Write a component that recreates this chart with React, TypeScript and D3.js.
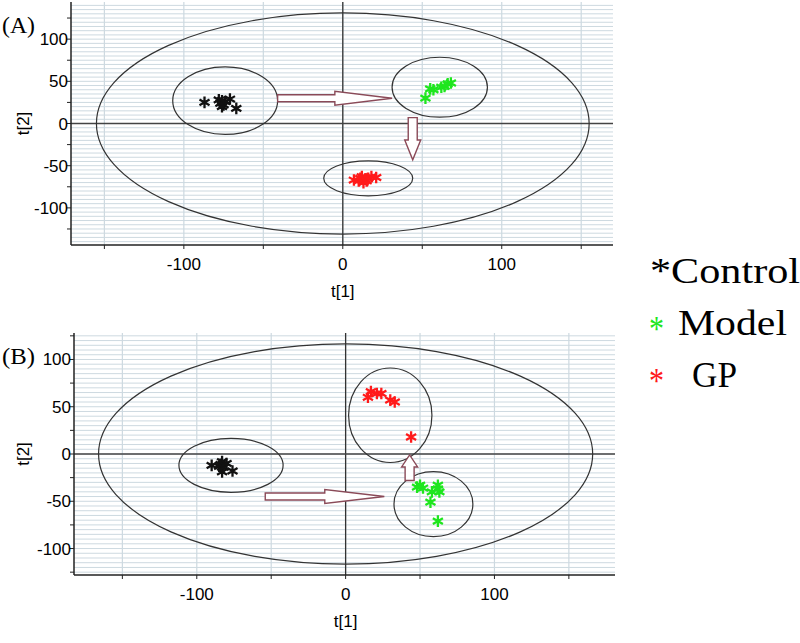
import React from 'react';
import * as d3 from 'd3';

// tick values shared by both score plots
const xTicks = [-100, 0, 100];
const yTicks = [-100, -50, 0, 50, 100];

// panel A scores (t[1], t[2])
const controlA: [number, number][] = [[-87, 25], [-78, 28], [-77, 24], [-76, 27], [-75, 22], [-76, 20], [-74, 26], [-71, 29], [-67, 18]];
const modelA: [number, number][] = [[52, 30], [55, 41], [57, 40], [62, 43], [64, 44], [66, 47], [68, 48]];
const gpA: [number, number][] = [[7, -67], [10, -68], [11, -65], [12, -63], [13, -70], [14, -66], [15, -68], [16, -65], [18, -63], [21, -64]];

// panel B scores
const controlB: [number, number][] = [[-90, -12], [-85, -13], [-84, -11], [-83, -8], [-83, -19], [-82, -14], [-80, -10], [-76, -18]];
const modelB: [number, number][] = [[48, -35], [50, -33], [52, -36], [58, -40], [62, -33], [63, -40], [62, -37], [57, -51], [62, -71]];
const gpB: [number, number][] = [[15, 60], [17, 66], [21, 64], [24, 64], [30, 57], [33, 55], [44, 18]];

// ellipses: [cx, cy, rx, ry] in score units
const ellipsesA = [[0, 0, 155, 131], [-74, 27, 33, 40], [61, 43, 30, 35.5], [16, -65, 28, 20.7]];
const ellipsesB = [[0, 0, 166, 116.5], [-77, -12, 35, 28.5], [30, 41, 28, 50], [59, -53, 26.5, 34.4]];

// arrows: [x1, y1, x2, y2] from tail to tip, in score units
const arrowsA = [[-41, 30, 31, 30], [44, 7, 44, -43]];
const arrowsB = [[-54, -45, 26, -45], [43, -28, 43, -1]];

const groupColors = { control: '#111111', model: '#1ee61e', gp: '#ff1a1a' };

type PanelProps = {
  top: number; bottom: number; left: number; right: number;
  xDomain: [number, number]; yDomain: [number, number];
  label: string; ellipses: number[][]; arrows: number[][];
  control: [number, number][]; model: [number, number][]; gp: [number, number][];
};

const star = d3.symbol().type(d3.symbolAsterisk).size(95);
const serif = '"Liberation Serif", "Times New Roman", serif';

function Arrow({ a, x, y }: { a: number[]; x: any; y: any }) {
  const x1 = x(a[0]), y1 = y(a[1]), x2 = x(a[2]), y2 = y(a[3]);
  const len = Math.hypot(x2 - x1, y2 - y1);
  const ang = (Math.atan2(y2 - y1, x2 - x1) * 180) / Math.PI;
  const horiz = Math.abs(ang) < 45;
  const sw = horiz ? 3.5 : 4.5;
  const hw = horiz ? 7 : 8;
  const hl = horiz ? len * 0.5 : len * 0.47;
  const p = d3.path();
  p.moveTo(0, -sw); p.lineTo(len - hl, -sw); p.lineTo(len - hl, -hw); p.lineTo(len, 0);
  p.lineTo(len - hl, hw); p.lineTo(len - hl, sw); p.lineTo(0, sw); p.closePath();
  return <path d={p.toString()} transform={`translate(${x1},${y1}) rotate(${ang})`} fill="#fff" stroke="#8a4a58" strokeWidth={1.4} />;
}

function Panel(props: PanelProps) {
  const { top, bottom, left, right } = props;
  const x = d3.scaleLinear().domain(props.xDomain).range([left, right]);
  const y = d3.scaleLinear().domain(props.yDomain).range([bottom, top]);
  const hGrid = d3.range(Math.ceil(props.yDomain[0] / 5) * 5, props.yDomain[1], 5);
  const vGrid = d3.range(-150, 151, 50);
  const yMinor = d3.range(-125, 126, 25);
  const font = 'Arial, "Liberation Sans", sans-serif';
  const groups: [string, [number, number][]][] = [['control', props.control], ['model', props.model], ['gp', props.gp]];
  return (
    <g>
      <text x={2} y={top + 31} fontFamily={serif} fontSize={24} textLength={33} lengthAdjust="spacingAndGlyphs">{props.label}</text>
      {hGrid.map(v => <line key={'h' + v} x1={left} x2={right} y1={y(v)} y2={y(v)} stroke="#cdd9e0" strokeWidth={1} />)}
      {vGrid.map(v => <line key={'v' + v} x1={x(v)} x2={x(v)} y1={top} y2={bottom} stroke="#cdd9e0" strokeWidth={1.2} />)}
      <line x1={x(0)} x2={x(0)} y1={top} y2={bottom} stroke="#333" strokeWidth={1.3} />
      <line x1={left} x2={right} y1={y(0)} y2={y(0)} stroke="#444" strokeWidth={1.3} />
      {props.ellipses.map((e, i) => (
        <ellipse key={i} cx={x(e[0])} cy={y(e[1])} rx={x(e[2]) - x(0)} ry={y(0) - y(e[3])} fill="none" stroke="#333" strokeWidth={1.2} />
      ))}
      {props.arrows.map((a, i) => <Arrow key={i} a={a} x={x} y={y} />)}
      {groups.map(([g, pts]) => pts.map((d, i) => (
        <path key={g + i} d={star() as string} transform={`translate(${x(d[0])},${y(d[1])})`} fill="none"
          stroke={(groupColors as any)[g]} strokeWidth={2.3} />
      )))}
      <line x1={left} x2={left} y1={top} y2={bottom} stroke="#222" strokeWidth={1.5} />
      <line x1={left} x2={right} y1={bottom} y2={bottom} stroke="#222" strokeWidth={1.5} />
      {vGrid.map(v => <line key={'xt' + v} x1={x(v)} x2={x(v)} y1={bottom} y2={bottom + 4} stroke="#222" />)}
      {yMinor.map(v => <line key={'yt' + v} x1={left - 4} x2={left} y1={y(v)} y2={y(v)} stroke="#222" />)}
      {xTicks.map(v => (
        <text key={'xl' + v} x={x(v)} y={bottom + 25} textAnchor="middle" fontFamily={font} fontSize={17}>{v}</text>
      ))}
      {yTicks.map(v => (
        <text key={'yl' + v} x={left - 3} y={y(v) + 6} textAnchor="end" fontFamily={font} fontSize={17}>{v}</text>
      ))}
      <text x={x(0)} y={bottom + 52} textAnchor="middle" fontFamily={font} fontSize={17}>t[1]</text>
      <text transform={`translate(29,${y(0)}) rotate(-90)`} textAnchor="middle" fontFamily={font} fontSize={17}>t[2]</text>
    </g>
  );
}

const legend = [
  { name: '*Control', star: '', color: groupColors.control, tx: 650, w: 150 },
  { name: 'Model', star: '*', color: groupColors.model, tx: 678, w: 109 },
  { name: 'GP', star: '*', color: groupColors.gp, tx: 692, w: 45 },
];

export default function App() {
  return (
    <svg width={800} height={643} style={{ position: 'absolute', left: 0, top: 0, background: '#fff' }}>
      <Panel top={2} bottom={245} left={71} right={613} xDomain={[-171, 170]} yDomain={[-144, 144]}
        label="(A)" ellipses={ellipsesA} arrows={arrowsA} control={controlA} model={modelA} gp={gpA} />
      <Panel top={333} bottom={575} left={74} right={615} xDomain={[-182.5, 181]} yDomain={[-128, 128]}
        label="(B)" ellipses={ellipsesB} arrows={arrowsB} control={controlB} model={modelB} gp={gpB} />
      {legend.map((l, i) => (
        <g key={l.name} fontFamily={serif} fontSize={35}>
          {l.star && <text x={649} y={283 + i * 52 + 6} fill={l.color} textLength={15} lengthAdjust="spacingAndGlyphs">{l.star}</text>}
          <text x={l.tx} y={283 + i * 52} fill="#000" textLength={l.w} lengthAdjust="spacingAndGlyphs">{l.name}</text>
        </g>
      ))}
    </svg>
  );
}
